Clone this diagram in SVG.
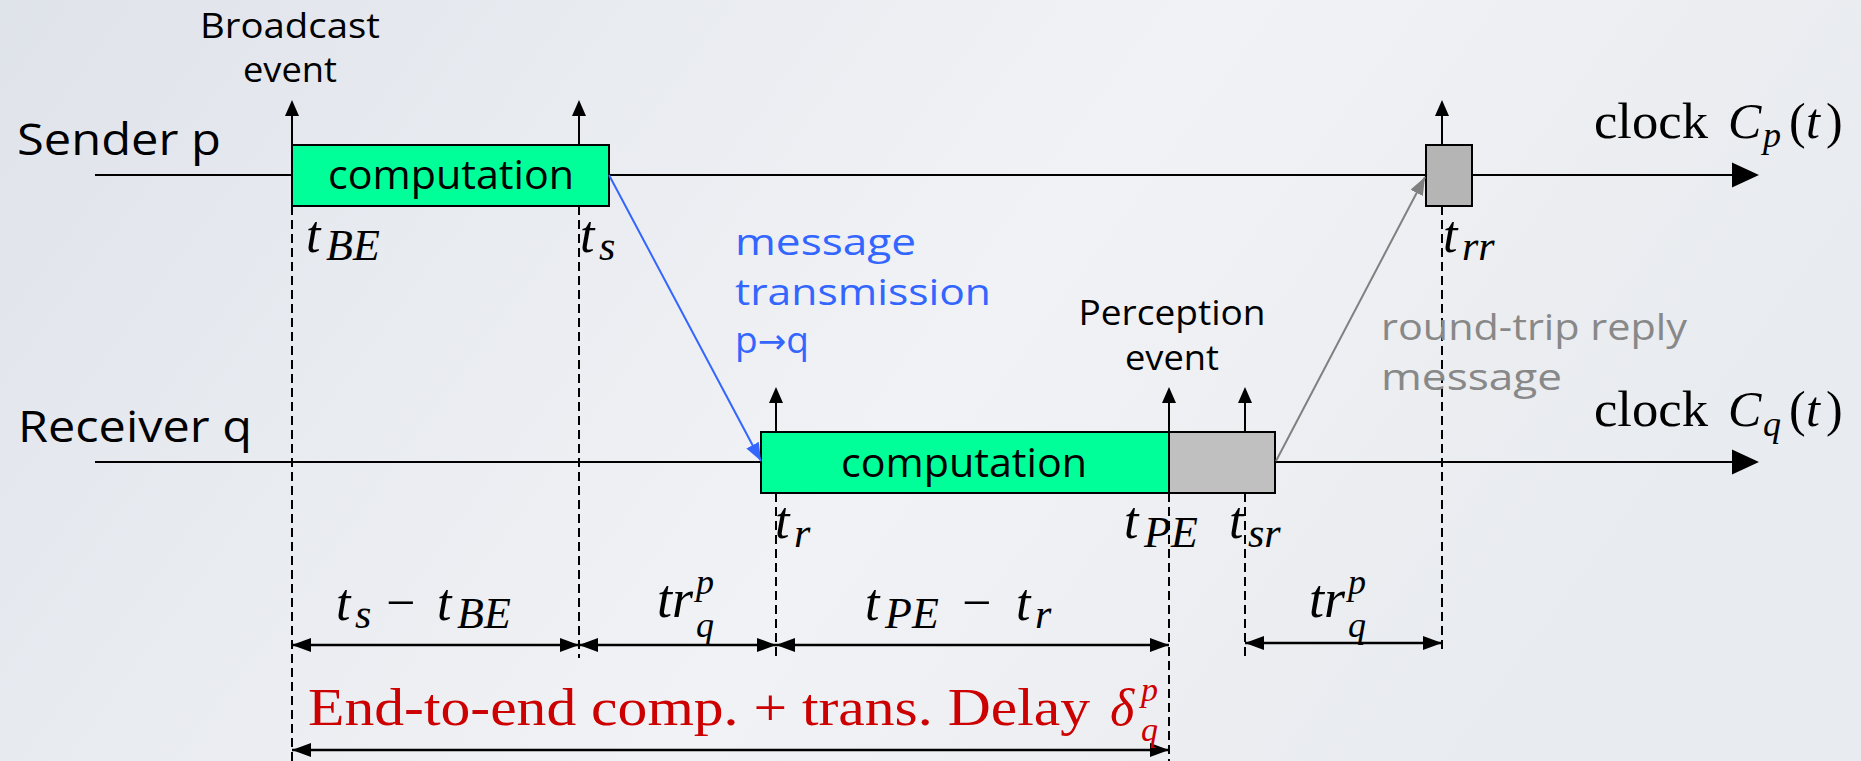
<svg xmlns="http://www.w3.org/2000/svg" width="1861" height="761" viewBox="0 0 1861 761">
<defs>
<linearGradient id="bg" x1="0" y1="0" x2="1" y2="0.3">
<stop offset="0" stop-color="#dfe3ea"/>
<stop offset="0.3" stop-color="#e8ebf0"/>
<stop offset="0.6" stop-color="#f1f2f5"/>
<stop offset="1" stop-color="#e8ebef"/>
</linearGradient>
<marker id="dbl" markerUnits="userSpaceOnUse" markerWidth="20" markerHeight="14" refX="19" refY="7" orient="auto-start-reverse">
<path d="M0,0 L19,7 L0,14 z" fill="#000"/>
</marker>
<marker id="blueHead" markerUnits="userSpaceOnUse" markerWidth="20" markerHeight="14" refX="18" refY="7" orient="auto">
<path d="M0,0 L18,7 L0,14 z" fill="#3366ff"/>
</marker>
<marker id="greyHead" markerUnits="userSpaceOnUse" markerWidth="20" markerHeight="14" refX="18" refY="7" orient="auto">
<path d="M0,0 L18,7 L0,14 z" fill="#808080"/>
</marker>
<style>
.sans{font-family:"Open Sans","Liberation Sans",sans-serif;fill:#000}
.mi{font-family:"Liberation Serif",serif;font-style:italic;fill:#000}
.rm{font-family:"Liberation Serif",serif;fill:#000}
.line{stroke:#000;stroke-width:2;fill:none}
.dash{stroke:#000;stroke-width:2;stroke-dasharray:9 5;fill:none}
.box{stroke:#000;stroke-width:2}
.dim{stroke:#000;stroke-width:2.5;fill:none;marker-start:url(#dbl);marker-end:url(#dbl)}
.blue{fill:#3366ff}
.grey{fill:#888888}
.red{fill:#cc0000}
</style>
</defs>
<rect x="0" y="0" width="1861" height="761" fill="url(#bg)"/>

<g id="dashed-guides">
<line class="dash" x1="292" y1="206" x2="292" y2="761"/>
<line class="dash" x1="579" y1="206" x2="579" y2="658"/>
<line class="dash" x1="1442" y1="206" x2="1442" y2="650"/>
<line class="dash" x1="776" y1="493" x2="776" y2="660"/>
<line class="dash" x1="1169" y1="493" x2="1169" y2="761"/>
<line class="dash" x1="1245" y1="493" x2="1245" y2="660"/>
</g>

<g id="timeline-p">
<line class="line" x1="95" y1="175" x2="1736" y2="175"/>
<polygon points="1732,162.5 1759,175 1732,187.5" fill="#000"/>
<text class="sans" x="17" y="155" font-size="44" textLength="204" lengthAdjust="spacingAndGlyphs">Sender p</text>
<text class="rm" x="1594" y="138" font-size="50" textLength="114" lengthAdjust="spacingAndGlyphs">clock</text>
<text class="mi" x="1728" y="138" font-size="50">C</text>
<text class="mi" x="1763" y="147" font-size="36">p</text>
<text class="rm" x="1789" y="138" font-size="50">(</text>
<text class="mi" x="1806" y="138" font-size="50">t</text>
<text class="rm" x="1826" y="138" font-size="50">)</text>
</g>

<g id="timeline-q">
<line class="line" x1="95" y1="462" x2="1736" y2="462"/>
<polygon points="1732,449.5 1759,462 1732,474.5" fill="#000"/>
<text class="sans" x="18" y="442" font-size="44" textLength="234" lengthAdjust="spacingAndGlyphs">Receiver q</text>
<text class="rm" x="1594" y="426" font-size="50" textLength="114" lengthAdjust="spacingAndGlyphs">clock</text>
<text class="mi" x="1728" y="426" font-size="50">C</text>
<text class="mi" x="1763" y="436" font-size="36">q</text>
<text class="rm" x="1789" y="426" font-size="50">(</text>
<text class="mi" x="1806" y="426" font-size="50">t</text>
<text class="rm" x="1826" y="426" font-size="50">)</text>
</g>

<g id="sender-computation">
<rect class="box" x="292" y="145" width="317" height="61" fill="#00ff99"/>
<text class="sans" x="328" y="189" font-size="40" textLength="246" lengthAdjust="spacingAndGlyphs">computation</text>
</g>

<g id="sender-reply-box">
<rect class="box" x="1426" y="145" width="46" height="61" fill="#b5b5b5"/>
</g>

<g id="receiver-computation">
<rect class="box" x="761" y="432" width="408" height="61" fill="#00ff99"/>
<text class="sans" x="841" y="477" font-size="40" textLength="246" lengthAdjust="spacingAndGlyphs">computation</text>
</g>

<g id="receiver-reply-box">
<rect class="box" x="1169" y="432" width="106" height="61" fill="#c0c0c0"/>
</g>

<g id="event-arrows">
<line class="line" x1="292" y1="145" x2="292" y2="112"/>
<polygon points="292,100 285,116 299,116" fill="#000"/>
<line class="line" x1="579" y1="145" x2="579" y2="112"/>
<polygon points="579,100 572,116 586,116" fill="#000"/>
<line class="line" x1="1442" y1="145" x2="1442" y2="112"/>
<polygon points="1442,100 1435,116 1449,116" fill="#000"/>
<line class="line" x1="776" y1="432" x2="776" y2="399"/>
<polygon points="776,387 769,403 783,403" fill="#000"/>
<line class="line" x1="1169" y1="432" x2="1169" y2="399"/>
<polygon points="1169,387 1162,403 1176,403" fill="#000"/>
<line class="line" x1="1245" y1="432" x2="1245" y2="399"/>
<polygon points="1245,387 1238,403 1252,403" fill="#000"/>
</g>

<g id="connectors">
<line x1="609" y1="175" x2="761" y2="461" stroke="#3366ff" stroke-width="2" marker-end="url(#blueHead)"/>
<line x1="1276" y1="461" x2="1425" y2="177" stroke="#808080" stroke-width="2" marker-end="url(#greyHead)"/>
<line class="dim" x1="292" y1="645" x2="579" y2="645"/>
<line class="dim" x1="579" y1="645" x2="776" y2="645"/>
<line class="dim" x1="776" y1="645" x2="1169" y2="645"/>
<line class="dim" x1="1245" y1="643" x2="1442" y2="643"/>
<line class="dim" x1="292" y1="750" x2="1169" y2="750"/>
</g>

<g id="labels-events">
<text class="sans" x="290" y="38" font-size="34" text-anchor="middle" textLength="180" lengthAdjust="spacingAndGlyphs">Broadcast</text>
<text class="sans" x="290" y="82" font-size="34" text-anchor="middle" textLength="94" lengthAdjust="spacingAndGlyphs">event</text>
<text class="sans" x="1172" y="325" font-size="34" text-anchor="middle" textLength="187" lengthAdjust="spacingAndGlyphs">Perception</text>
<text class="sans" x="1172" y="370" font-size="34" text-anchor="middle" textLength="94" lengthAdjust="spacingAndGlyphs">event</text>
</g>

<g id="labels-messages">
<text class="sans blue" x="735" y="255" font-size="37" textLength="181" lengthAdjust="spacingAndGlyphs">message</text>
<text class="sans blue" x="735" y="305" font-size="37" textLength="256" lengthAdjust="spacingAndGlyphs">transmission</text>
<text class="sans blue" x="735" y="353" font-size="37">p<tspan font-family="DejaVu Sans" font-size="34">→</tspan>q</text>
<text class="sans grey" x="1381" y="340" font-size="37" textLength="306" lengthAdjust="spacingAndGlyphs">round-trip reply</text>
<text class="sans grey" x="1381" y="390" font-size="37" textLength="181" lengthAdjust="spacingAndGlyphs">message</text>
</g>

<g id="labels-times">
<text class="mi" x="306" y="252" font-size="52">t</text>
<text class="mi" x="326" y="260" font-size="44">BE</text>
<text class="mi" x="580" y="252" font-size="52">t</text>
<text class="mi" x="599" y="260" font-size="42">s</text>
<text class="mi" x="1443" y="252" font-size="52">t</text>
<text class="mi" x="1462" y="260" font-size="42">rr</text>
<text class="mi" x="775" y="538" font-size="52">t</text>
<text class="mi" x="794" y="547" font-size="42">r</text>
<text class="mi" x="1124" y="538" font-size="52">t</text>
<text class="mi" x="1144" y="547" font-size="44">PE</text>
<text class="mi" x="1229" y="538" font-size="52">t</text>
<text class="mi" x="1248" y="547" font-size="42">sr</text>
</g>

<g id="labels-intervals">
<text class="mi" x="336" y="620" font-size="52">t</text>
<text class="mi" x="355" y="628" font-size="42">s</text>
<text class="rm" x="386" y="620" font-size="52">−</text>
<text class="mi" x="437" y="620" font-size="52">t</text>
<text class="mi" x="457" y="628" font-size="44">BE</text>

<text class="mi" x="657" y="617" font-size="54">tr</text>
<text class="mi" x="696" y="594" font-size="36">p</text>
<text class="mi" x="696" y="637" font-size="36">q</text>

<text class="mi" x="865" y="620" font-size="52">t</text>
<text class="mi" x="885" y="628" font-size="44">PE</text>
<text class="rm" x="962" y="620" font-size="52">−</text>
<text class="mi" x="1016" y="620" font-size="52">t</text>
<text class="mi" x="1035" y="628" font-size="42">r</text>

<text class="mi" x="1309" y="617" font-size="54">tr</text>
<text class="mi" x="1348" y="594" font-size="36">p</text>
<text class="mi" x="1348" y="637" font-size="36">q</text>
</g>

<g id="label-delay">
<text class="rm red" x="308" y="725" font-size="52" textLength="782" lengthAdjust="spacingAndGlyphs">End-to-end comp. + trans. Delay</text>
<text class="mi red" x="1110" y="725" font-size="52">δ</text>
<text class="mi red" x="1141" y="701" font-size="34">p</text>
<text class="mi red" x="1141" y="741" font-size="34">q</text>
</g>
</svg>
